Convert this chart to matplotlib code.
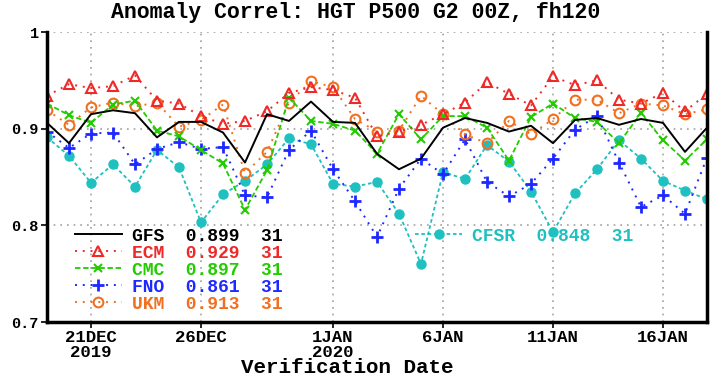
"""
Anomaly correlation, 500 hPa height, day-5 forecasts (fh120), 19 Dec 2019 - 18 Jan 2020
"""
import numpy as np
import pandas as pd
import matplotlib
matplotlib.use("Agg")
from matplotlib import pyplot as plt

# verification dates
dates = pd.date_range("2019-12-19", "2020-01-18", freq="D")

# anomaly correlation per model
gfs = [0.906, 0.885, 0.915, 0.919, 0.916, 0.891, 0.907, 0.907, 0.896, 0.865,
       0.915, 0.908, 0.928, 0.907, 0.906, 0.874, 0.858, 0.869, 0.901, 0.911,
       0.906, 0.897, 0.903, 0.885, 0.909, 0.911, 0.904, 0.910, 0.906, 0.876, 0.901]
ecm = [0.934, 0.946, 0.942, 0.944, 0.955, 0.929, 0.926, 0.913, 0.905, 0.908,
       0.918, 0.937, 0.943, 0.940, 0.932, 0.892, 0.897, 0.904, 0.915, 0.927,
       0.948, 0.936, 0.924, 0.954, 0.945, 0.950, 0.930, 0.926, 0.937, 0.918, 0.936]
cmc = [0.926, 0.914, 0.906, 0.925, 0.929, 0.898, 0.892, 0.878, 0.864, 0.816,
       0.857, 0.932, 0.908, 0.905, 0.898, 0.874, 0.915, 0.889, 0.913, 0.913,
       0.901, 0.867, 0.912, 0.926, 0.911, 0.907, 0.885, 0.916, 0.888, 0.867, 0.889]
fno = [0.897, 0.880, 0.895, 0.896, 0.863, 0.879, 0.886, 0.879, 0.881, 0.831,
       0.829, 0.878, 0.898, 0.858, 0.825, 0.788, 0.838, 0.869, 0.853, 0.889,
       0.845, 0.830, 0.843, 0.869, 0.899, 0.913, 0.865, 0.819, 0.831, 0.812, 0.870]
ukm = [0.919, 0.904, 0.922, 0.927, 0.923, 0.927, 0.902, 0.909, 0.925, 0.854,
       0.876, 0.927, 0.949, 0.943, 0.910, 0.897, 0.898, 0.934, 0.915, 0.894,
       0.885, 0.908, 0.894, 0.910, 0.930, 0.930, 0.916, 0.926, 0.924, 0.915, 0.920]
cfsr = [0.891, 0.872, 0.844, 0.863, 0.840, 0.878, 0.860, 0.803, 0.832, 0.846,
        0.863, 0.890, 0.884, 0.843, 0.840, 0.845, 0.812, 0.760, 0.855, 0.848,
        0.883, 0.866, 0.835, 0.793, 0.833, 0.858, 0.888, 0.869, 0.846, 0.836, 0.827]

# legend text: name, mean score, number of cases
names = ["GFS", "ECM", "CMC", "FNO", "UKM", "CFSR"]
means = ["0.899", "0.929", "0.897", "0.861", "0.913", "0.848"]
counts = ["31", "31", "31", "31", "31", "31"]

# x tick labels
tick_dates = pd.to_datetime(["2019-12-21", "2019-12-26", "2020-01-01",
                             "2020-01-06", "2020-01-11", "2020-01-16"])
tick_labels = ["21DEC\n2019", "26DEC", "1JAN\n2020", "6JAN", "11JAN", "16JAN"]
yticks = [0.7, 0.8, 0.9, 1.0]
ytick_labels = ["0.7", "0.8", "0.9", "1"]

FONT = "Liberation Mono"


def main():
    fig = plt.figure(figsize=(7.23, 3.87), dpi=100)
    ax = fig.add_axes([47/723, 65/387, 660/723, 290/387])

    dot = (0, (1, 3))
    # cfsr first so the others sit on top
    l6, = ax.plot(dates, cfsr, color="#1ec0c0", ls=(0, (2, 1.5)), lw=1.3,
                  marker="o", ms=6.5, mfc="#1ec0c0", mec="#1ec0c0")
    l4, = ax.plot(dates, fno, color="#1e28ff", ls=dot, lw=1.4,
                  marker="+", ms=8, mew=2)
    l5, = ax.plot(dates, ukm, color="#f07020", ls=dot, lw=1.4,
                  marker="o", ms=7, mfc="none", mew=1.5)
    l3, = ax.plot(dates, cmc, color="#22cc00", ls=(0, (3, 1.5)), lw=1.3,
                  marker="x", ms=6, mew=1.5)
    l2, = ax.plot(dates, ecm, color="#f02828", ls=dot, lw=1.4,
                  marker="^", ms=7, mfc="none", mew=1.5)
    l1, = ax.plot(dates, gfs, color="black", ls="-", lw=1.4)
    lines = [l1, l2, l3, l4, l5, l6]

    labels = ["%-3s  %s  %s" % (n, m, c) for n, m, c in zip(names[:5], means[:5], counts[:5])]
    labels.append("%s  %s  %s" % (names[5], means[5], counts[5]))

    legkw = dict(loc="upper left", frameon=False, borderpad=0, borderaxespad=0,
                 handlelength=2.6, handletextpad=0.55, labelspacing=0.0,
                 numpoints=1, labelcolor="linecolor",
                 prop={"family": FONT, "weight": "bold", "size": 13})
    leg1 = ax.legend(lines[:5], labels[:5], bbox_to_anchor=(0.042, 0.325), **legkw)
    ax.add_artist(leg1)
    ax.legend(lines[5:], labels[5:], bbox_to_anchor=(0.558, 0.325), **legkw)

    ax.set_xlim(dates[0], dates[-1])
    ax.set_ylim(0.7, 1.0)
    ax.set_xticks(tick_dates)
    ax.set_xticklabels(tick_labels, family=FONT, weight="bold", fontsize=12.5,
                       linespacing=0.95)
    ax.set_yticks(yticks)
    ax.set_yticklabels(ytick_labels, family=FONT, weight="bold", fontsize=11)
    ax.tick_params(axis="both", direction="out", length=4, width=1.2, pad=2)

    ax.grid(True, color="#a0a0a0", ls=(0, (1, 3)), lw=1.2)
    for side in ["left", "right", "bottom"]:
        ax.spines[side].set_linewidth(2.5)
    ax.spines["top"].set_visible(False)

    ax.set_title("Anomaly Correl: HGT P500 G2 00Z, fh120", family=FONT,
                 weight="bold", fontsize=15.5, pad=10, x=0.468)
    ax.set_xlabel("Verification Date", family=FONT, weight="bold", fontsize=15)
    ax.xaxis.set_label_coords(0.455, -0.125)

    fig.savefig("out.png", dpi=100)
    return 0


if __name__ == "__main__":
    main()
